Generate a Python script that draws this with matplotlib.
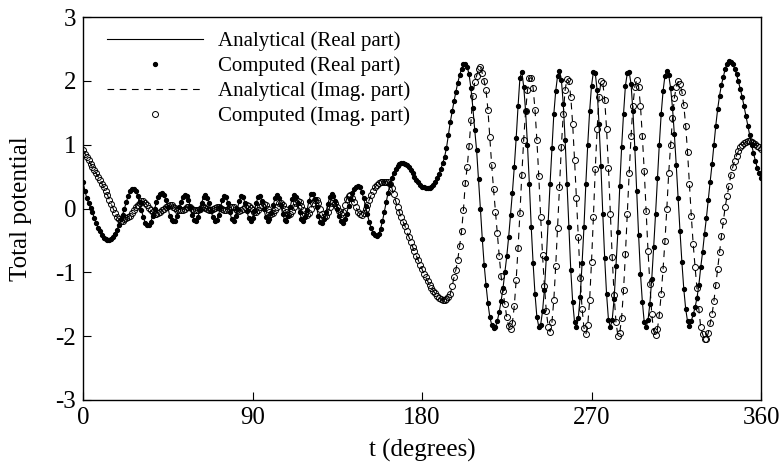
import numpy as np
import matplotlib.pyplot as plt

plt.rcParams['font.family'] = ['Liberation Serif', 'DejaVu Serif']
plt.rcParams['axes.unicode_minus'] = False

# angle around the body, one sample per degree
angle_deg = np.arange(0, 361)

real_part = [
    0.41, 0.28, 0.16, 0.08, 0.01, -0.06, -0.15, -0.23, -0.30, -0.36,
    -0.42, -0.46, -0.48, -0.49, -0.49, -0.48, -0.44, -0.40, -0.34, -0.26,
    -0.17, -0.10, 0.00, 0.10, 0.20, 0.27, 0.30, 0.31, 0.28, 0.20,
    0.10, -0.03, -0.13, -0.22, -0.26, -0.26, -0.21, -0.12, -0.01, 0.10,
    0.18, 0.22, 0.24, 0.21, 0.13, 0.03, -0.11, -0.18, -0.20, -0.19,
    -0.11, 0.02, 0.10, 0.18, 0.21, 0.20, 0.14, 0.03, -0.10, -0.18,
    -0.19, -0.13, -0.03, 0.09, 0.18, 0.21, 0.17, 0.08, -0.04, -0.14,
    -0.20, -0.18, -0.10, 0.02, 0.13, 0.20, 0.18, 0.08, -0.06, -0.17,
    -0.19, -0.12, 0.00, 0.12, 0.20, 0.18, 0.09, -0.04, -0.15, -0.20,
    -0.15, -0.04, 0.09, 0.18, 0.19, 0.12, 0.00, -0.13, -0.19, -0.17,
    -0.07, 0.06, 0.16, 0.21, 0.16, 0.05, -0.08, -0.18, -0.20, -0.12,
    0.02, 0.15, 0.21, 0.18, 0.08, -0.06, -0.16, -0.19, -0.14, -0.02,
    0.12, 0.22, 0.23, 0.15, 0.02, -0.12, -0.21, -0.23, -0.17, -0.06,
    0.07, 0.18, 0.22, 0.20, 0.12, 0.00, -0.12, -0.20, -0.22, -0.17,
    -0.08, 0.04, 0.15, 0.24, 0.31, 0.34, 0.35, 0.33, 0.26, 0.16,
    0.04, -0.09, -0.21, -0.31, -0.38, -0.42, -0.43, -0.40, -0.32, -0.20,
    -0.05, 0.10, 0.25, 0.38, 0.48, 0.56, 0.62, 0.66, 0.69, 0.71,
    0.71, 0.70, 0.68, 0.65, 0.60, 0.55, 0.50, 0.45, 0.41, 0.37,
    0.34, 0.33, 0.32, 0.32, 0.32, 0.34, 0.37, 0.42, 0.47, 0.54,
    0.62, 0.71, 0.81, 0.95, 1.15, 1.35, 1.52, 1.68, 1.83, 1.97,
    2.09, 2.19, 2.26, 2.27, 2.22, 2.10, 1.88, 1.58, 1.23, 0.91,
    0.46, 0.00, -0.47, -0.88, -1.20, -1.48, -1.70, -1.82, -1.87, -1.86,
    -1.76, -1.62, -1.45, -1.25, -1.00, -0.75, -0.45, -0.10, 0.25, 0.65,
    1.10, 1.60, 2.05, 2.14, 1.91, 1.53, 1.00, 0.39, -0.29, -0.86,
    -1.34, -1.70, -1.85, -1.82, -1.61, -1.27, -0.77, -0.21, 0.39, 0.95,
    1.48, 1.84, 2.08, 2.16, 2.02, 1.64, 1.07, 0.39, -0.29, -0.97,
    -1.46, -1.78, -1.86, -1.71, -1.38, -0.86, -0.29, 0.39, 1.00, 1.52,
    1.92, 2.14, 2.12, 1.85, 1.32, 0.67, -0.09, -0.78, -1.34, -1.74,
    -1.86, -1.74, -1.42, -0.90, -0.37, 0.35, 0.96, 1.48, 1.92, 2.12,
    2.14, 1.95, 1.52, 0.95, 0.27, -0.41, -1.02, -1.46, -1.78, -1.86,
    -1.75, -1.49, -1.10, -0.61, -0.09, 0.47, 1.00, 1.48, 1.84, 2.08,
    2.16, 2.09, 1.89, 1.58, 1.16, 0.68, 0.16, -0.36, -0.84, -1.26,
    -1.57, -1.77, -1.84, -1.76, -1.66, -1.55, -1.40, -1.20, -0.92, -0.68,
    -0.40, -0.15, 0.14, 0.42, 0.69, 0.99, 1.30, 1.56, 1.77, 1.94,
    2.06, 2.19, 2.27, 2.31, 2.30, 2.26, 2.19, 2.10, 1.99, 1.87,
    1.75, 1.60, 1.45, 1.30, 1.15, 1.00, 0.87, 0.75, 0.64, 0.55,
    0.47,
]

imag_part = [
    0.91, 0.86, 0.81, 0.76, 0.70, 0.65, 0.60, 0.55, 0.50, 0.45,
    0.39, 0.33, 0.27, 0.21, 0.14, 0.07, 0.00, -0.07, -0.13, -0.17,
    -0.19, -0.19, -0.17, -0.15, -0.13, -0.11, -0.07, -0.03, 0.02, 0.06,
    0.09, 0.11, 0.11, 0.09, 0.05, 0.01, -0.03, -0.06, -0.08, -0.08,
    -0.07, -0.05, -0.03, 0.00, 0.02, 0.04, 0.05, 0.05, 0.03, 0.01,
    -0.02, -0.03, -0.03, -0.02, 0.00, 0.02, 0.03, 0.02, 0.00, -0.02,
    -0.03, -0.02, 0.00, 0.02, 0.02, 0.01, -0.01, -0.02, -0.02, -0.01,
    0.01, 0.02, 0.02, 0.01, -0.01, -0.02, -0.02, 0.00, 0.02, 0.03,
    0.02, 0.00, -0.03, -0.04, -0.03, 0.00, 0.03, 0.05, 0.04, 0.01,
    -0.03, -0.06, -0.06, -0.03, 0.02, 0.06, 0.07, 0.05, 0.00, -0.05,
    -0.08, -0.07, -0.03, 0.03, 0.08, 0.09, 0.06, 0.00, -0.06, -0.10,
    -0.09, -0.04, 0.03, 0.08, 0.11, 0.10, 0.04, -0.03, -0.09, -0.10,
    -0.07, 0.00, 0.08, 0.13, 0.13, 0.08, 0.00, -0.08, -0.13, -0.12,
    -0.06, 0.02, 0.08, 0.11, 0.09, 0.03, -0.04, -0.08, -0.06, 0.05,
    0.15, 0.20, 0.21, 0.17, 0.10, 0.02, -0.05, -0.09, -0.10, -0.07,
    -0.01, 0.06, 0.14, 0.21, 0.28, 0.33, 0.37, 0.40, 0.42, 0.42,
    0.42, 0.42, 0.41, 0.38, 0.32, 0.22, 0.12, 0.02, -0.06, -0.14,
    -0.21, -0.28, -0.36, -0.44, -0.52, -0.60, -0.67, -0.74, -0.81, -0.88,
    -0.95, -1.02, -1.08, -1.14, -1.20, -1.25, -1.29, -1.33, -1.37, -1.40,
    -1.42, -1.43, -1.43, -1.41, -1.39, -1.34, -1.22, -1.08, -0.96, -0.80,
    -0.58, -0.36, -0.02, 0.40, 0.65, 0.98, 1.38, 1.76, 1.98, 2.08,
    2.18, 2.22, 2.12, 2.00, 1.85, 1.55, 1.12, 0.68, 0.30, -0.05,
    -0.38, -0.74, -1.06, -1.30, -1.50, -1.70, -1.84, -1.89, -1.79, -1.53,
    -1.12, -0.62, -0.07, 0.53, 1.08, 1.52, 1.85, 2.04, 2.05, 1.89,
    1.55, 1.07, 0.51, -0.13, -0.73, -1.21, -1.61, -1.85, -1.93, -1.78,
    -1.43, -0.90, -0.30, 0.33, 0.97, 1.48, 1.86, 2.03, 1.99, 1.75,
    1.32, 0.76, 0.16, -0.45, -1.09, -1.57, -1.87, -1.97, -1.83, -1.44,
    -0.84, -0.14, 0.62, 1.25, 1.74, 1.99, 1.97, 1.70, 1.25, 0.63,
    -0.08, -0.76, -1.36, -1.78, -1.99, -1.95, -1.71, -1.28, -0.72, -0.08,
    0.55, 1.13, 1.61, 1.91, 2.01, 1.91, 1.61, 1.13, 0.59, -0.04,
    -0.66, -1.18, -1.66, -1.92, -1.98, -1.89, -1.67, -1.34, -0.95, -0.51,
    0.00, 0.56, 0.99, 1.41, 1.73, 1.91, 1.99, 1.95, 1.83, 1.62,
    1.30, 0.88, 0.38, -0.12, -0.56, -0.92, -1.25, -1.58, -1.86, -1.97,
    -2.05, -2.04, -1.95, -1.80, -1.66, -1.45, -1.20, -0.94, -0.68, -0.43,
    -0.20, 0.03, 0.20, 0.36, 0.52, 0.65, 0.75, 0.83, 0.90, 0.96,
    0.99, 1.02, 1.04, 1.05, 1.05, 1.04, 1.03, 1.01, 0.98, 0.96,
    0.93,
]

x_ticks = [0, 90, 180, 270, 360]
y_ticks = [-3, -2, -1, 0, 1, 2, 3]

fig = plt.figure(figsize=(7.84, 4.66), dpi=100)
ax = fig.add_axes([83 / 784, 1 - 400 / 466, 678 / 784, 383 / 466])

ax.plot(angle_deg, real_part, '-', color='black', lw=0.8,
        label='Analytical (Real part)')
ax.plot(angle_deg, real_part, 'o', color='black', ms=2.8, lw=0,
        label='Computed (Real part)')
ax.plot(angle_deg, imag_part, color='black', lw=0.8, dashes=(6, 5),
        label='Analytical (Imag. part)')
ax.plot(angle_deg, imag_part, 'o', mfc='none', mec='black', ms=4.3,
        mew=0.7, lw=0, label='Computed (Imag. part)')

ax.set_xlim(0, 360)
ax.set_ylim(-3, 3)
ax.set_xticks(x_ticks)
ax.set_yticks(y_ticks)
ax.tick_params(direction='in', length=6, width=0.8, labelsize=18,
               top=False, right=False)
ax.tick_params(axis='y', pad=5)
ax.tick_params(axis='x', pad=5)
for s in ax.spines.values():
    s.set_linewidth(1.0)

ax.set_xlabel('t (degrees)', fontsize=18, labelpad=7)
ax.set_ylabel('Total potential', fontsize=18, labelpad=17)

ax.legend(loc='upper left', bbox_to_anchor=(0.035, 0.962), frameon=False,
          fontsize=15, handlelength=4.6, handletextpad=0.75,
          labelspacing=0.25, borderpad=0, borderaxespad=0, numpoints=1)

fig.savefig('out.png', dpi=100)
